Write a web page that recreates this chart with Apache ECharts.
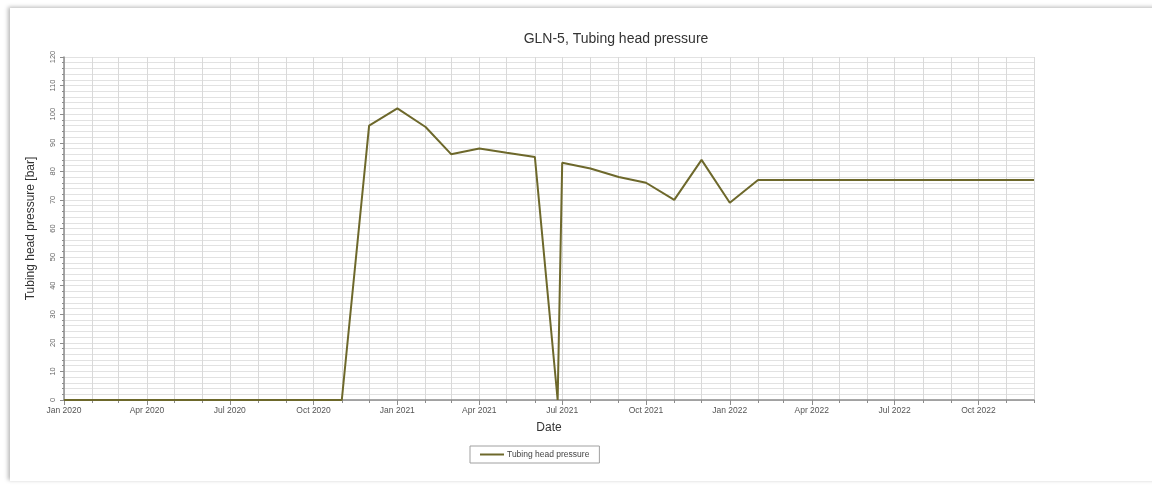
<!DOCTYPE html>
<html>
<head>
<meta charset="utf-8">
<title>GLN-5, Tubing head pressure</title>
<script src="https://cdn.jsdelivr.net/npm/echarts@6/dist/echarts.min.js"></script>
<style>
  html, body { margin: 0; padding: 0; background: #ffffff; }
  #frame {
    position: absolute; left: 10px; top: 8px; width: 1160px; height: 473px;
    background: #ffffff;
    box-shadow: -2px -1px 4px rgba(0,0,0,0.28);
  }
  #chart { position: absolute; left: 0; top: 0; width: 1152px; height: 486px; }
</style>
</head>
<body>
<div id="frame"></div>
<div id="chart"></div>
<script>
// Measurement dates and tubing head pressure readings [bar]
const dates = [
  '2020-01-01', '2020-02-01', '2020-03-01', '2020-04-01', '2020-05-01', '2020-06-01',
  '2020-07-01', '2020-08-01', '2020-09-01', '2020-10-01', '2020-11-01', '2020-12-01',
  '2021-01-01', '2021-02-01', '2021-03-01', '2021-04-01', '2021-05-01', '2021-06-01',
  '2021-06-26', '2021-07-01', '2021-08-01', '2021-09-01', '2021-10-01', '2021-11-01',
  '2021-12-01', '2022-01-01', '2022-02-01', '2022-03-01', '2022-04-01', '2022-05-01',
  '2022-06-01', '2022-07-01', '2022-08-01', '2022-09-01', '2022-10-01', '2022-11-01',
  '2022-12-01'
];
const pressure = [
  0, 0, 0, 0, 0, 0,
  0, 0, 0, 0, 0, 96,
  102, 95.5, 86, 88, 86.5, 85,
  0, 83, 81, 78, 76, 70,
  84, 69, 77, 77, 77, 77,
  77, 77, 77, 77, 77, 77,
  77
];
// Date axis: monthly ticks / grid, labels every quarter
const monthTicks = [
  '2020-01-01', '2020-02-01', '2020-03-01', '2020-04-01', '2020-05-01', '2020-06-01',
  '2020-07-01', '2020-08-01', '2020-09-01', '2020-10-01', '2020-11-01', '2020-12-01',
  '2021-01-01', '2021-02-01', '2021-03-01', '2021-04-01', '2021-05-01', '2021-06-01',
  '2021-07-01', '2021-08-01', '2021-09-01', '2021-10-01', '2021-11-01', '2021-12-01',
  '2022-01-01', '2022-02-01', '2022-03-01', '2022-04-01', '2022-05-01', '2022-06-01',
  '2022-07-01', '2022-08-01', '2022-09-01', '2022-10-01', '2022-11-01', '2022-12-01'
];
const quarterLabels = [
  '2020-01-01', '2020-04-01', '2020-07-01', '2020-10-01',
  '2021-01-01', '2021-04-01', '2021-07-01', '2021-10-01',
  '2022-01-01', '2022-04-01', '2022-07-01', '2022-10-01'
];
const monthNames = ['Jan', 'Feb', 'Mar', 'Apr', 'May', 'Jun', 'Jul', 'Aug', 'Sep', 'Oct', 'Nov', 'Dec'];
const xStart = '2020-01-01';
const xEnd = '2022-12-01';
const yMin = 0, yMax = 120, yStep = 10;

const toTime = s => new Date(s + 'T00:00:00').getTime();

const chart = echarts.init(document.getElementById('chart'), null, { renderer: 'canvas' });
const lineColor = '#6d682b';
const gridColor = '#e2e2e2';
const axisColor = '#8c8c8c';
const font = 'Liberation Sans, Arial, sans-serif';

chart.setOption({
  backgroundColor: 'transparent',
  animation: false,
  title: {
    text: 'GLN-5, Tubing head pressure',
    left: 611, top: 27, textAlign: 'center',
    textStyle: { fontFamily: font, fontSize: 14, fontWeight: 'normal', color: '#333' }
  },
  grid: { left: 64, top: 57, right: 118, bottom: 86, containLabel: false },
  legend: {
    left: 470, top: 446,
    padding: [4, 10, 4, 10],
    borderColor: '#a0a0a0', borderWidth: 1,
    icon: 'rect', itemWidth: 24, itemHeight: 2, itemGap: 4,
    textStyle: { fontFamily: font, fontSize: 8.5, color: '#444', padding: [0, 0, 0, -2] },
    data: ['Tubing head pressure']
  },
  xAxis: [{
    // timestamps on a linear axis so ticks can sit exactly on month starts
    type: 'value',
    min: toTime(xStart), max: toTime(xEnd),
    name: 'Date', nameLocation: 'middle', nameGap: 22,
    nameTextStyle: { fontFamily: font, fontSize: 12, color: '#333' },
    axisLine: { lineStyle: { color: axisColor, width: 1.5 } },
    axisTick: { show: true, length: 3, lineStyle: { color: axisColor }, customValues: monthTicks.map(toTime) },
    splitLine: { show: true, lineStyle: { color: '#d9d9d9', width: 1 } },
    axisLabel: {
      customValues: quarterLabels.map(toTime),
      fontFamily: font, fontSize: 8.5, color: '#555', margin: 6,
      formatter: function (v) {
        const d = new Date(v);
        return monthNames[d.getMonth()] + ' ' + d.getFullYear();
      }
    }
  }, {
    // longer tick marks at each labelled quarter
    type: 'value',
    position: 'bottom',
    min: toTime(xStart), max: toTime(xEnd),
    axisLine: { show: false },
    axisTick: { show: true, length: 5, lineStyle: { color: axisColor }, customValues: quarterLabels.map(toTime) },
    splitLine: { show: false },
    axisLabel: { show: false }
  }],
  yAxis: {
    type: 'value',
    min: yMin, max: yMax, interval: yStep,
    name: 'Tubing head pressure [bar]', nameLocation: 'middle', nameGap: 27,
    nameTextStyle: { fontFamily: font, fontSize: 12, color: '#333' },
    axisLine: { show: true, lineStyle: { color: axisColor, width: 1.5 } },
    axisTick: { show: true, length: 4, lineStyle: { color: axisColor } },
    minorTick: { show: true, splitNumber: 5, length: 2, lineStyle: { color: axisColor } },
    splitLine: { show: true, lineStyle: { color: gridColor, width: 1 } },
    minorSplitLine: { show: true, lineStyle: { color: gridColor, width: 1 } },
    axisLabel: {
      rotate: 90, margin: 7,
      fontFamily: font, fontSize: 7.5, color: '#666'
    }
  },
  series: [{
    name: 'Tubing head pressure',
    type: 'line',
    xAxisIndex: 0,
    data: dates.map((d, i) => [toTime(d), pressure[i]]),
    symbol: 'none',
    lineStyle: { color: lineColor, width: 2 },
    itemStyle: { color: lineColor }
  }]
});
</script>
</body>
</html>
